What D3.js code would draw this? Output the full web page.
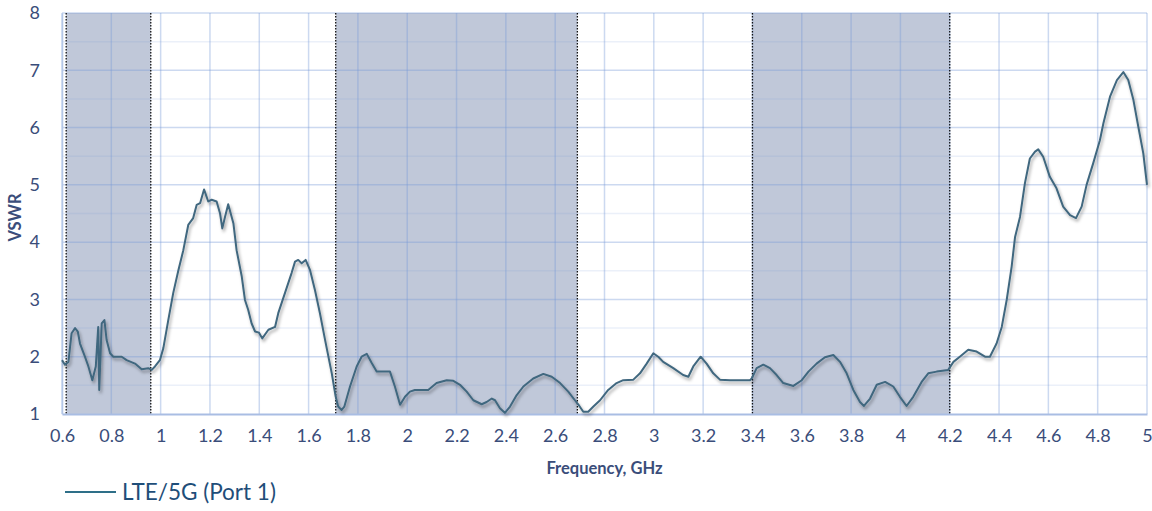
<!DOCTYPE html>
<meta charset="utf-8">
<style>
body { margin: 0; background: #fff; }
svg text { font-family: Lato, "Open Sans", sans-serif; fill: #3a4d7a; }
.tick text { font-size: 18px; }
.title { font-size: 16.5px; font-weight: bold; }
.legend text { font-size: 22.5px; fill: #1f4e79; }
</style>
<body>
<script src="https://cdnjs.cloudflare.com/ajax/libs/d3/7.8.5/d3.min.js"></script>
<script>

// frequency (GHz) and VSWR
var freq = [0.600,0.612,0.626,0.639,0.653,0.664,0.673,0.693,0.707,0.723,0.737,0.747,0.751,0.761,0.772,0.781,0.795,0.808,0.842,0.862,0.896,0.923,0.950,0.964,0.977,0.997,1.011,1.031,1.051,1.072,1.092,1.112,1.132,1.146,1.160,1.176,1.193,1.207,1.227,1.241,1.250,1.261,1.274,1.295,1.308,1.329,1.342,1.355,1.369,1.383,1.399,1.412,1.437,1.464,1.477,1.504,1.531,1.545,1.558,1.572,1.588,1.606,1.626,1.646,1.667,1.694,1.710,1.720,1.734,1.745,1.768,1.795,1.815,1.836,1.856,1.876,1.930,1.950,1.971,1.991,2.011,2.031,2.085,2.119,2.160,2.187,2.214,2.241,2.268,2.302,2.322,2.343,2.356,2.376,2.396,2.417,2.444,2.471,2.511,2.552,2.586,2.620,2.653,2.680,2.698,2.714,2.734,2.755,2.782,2.815,2.849,2.876,2.917,2.944,2.971,2.998,3.018,3.038,3.079,3.119,3.140,3.160,3.190,3.214,3.241,3.268,3.309,3.390,3.397,3.417,3.444,3.471,3.498,3.525,3.566,3.600,3.627,3.660,3.694,3.728,3.755,3.782,3.809,3.836,3.852,3.877,3.904,3.938,3.971,3.998,4.025,4.052,4.086,4.113,4.147,4.194,4.215,4.241,4.275,4.309,4.343,4.363,4.390,4.411,4.431,4.451,4.465,4.485,4.505,4.525,4.546,4.559,4.579,4.606,4.633,4.660,4.688,4.712,4.735,4.755,4.782,4.809,4.823,4.850,4.878,4.904,4.924,4.945,4.965,4.985,5.000];
var vswr = [1.94,1.86,1.91,2.41,2.50,2.44,2.23,2.00,1.83,1.59,1.83,2.52,1.42,2.58,2.64,2.29,2.06,2.00,2.00,1.94,1.88,1.78,1.80,1.77,1.83,1.94,2.15,2.64,3.11,3.51,3.86,4.30,4.42,4.65,4.68,4.92,4.71,4.74,4.71,4.50,4.24,4.44,4.66,4.33,3.86,3.40,2.99,2.82,2.58,2.44,2.42,2.32,2.47,2.52,2.76,3.11,3.46,3.66,3.69,3.63,3.69,3.51,3.16,2.76,2.29,1.71,1.30,1.13,1.07,1.13,1.48,1.83,2.00,2.05,1.89,1.74,1.74,1.48,1.16,1.30,1.39,1.42,1.42,1.54,1.59,1.58,1.51,1.39,1.24,1.17,1.21,1.27,1.24,1.10,1.02,1.13,1.33,1.48,1.62,1.70,1.65,1.54,1.39,1.24,1.14,1.04,1.04,1.13,1.24,1.42,1.54,1.59,1.60,1.71,1.88,2.06,2.00,1.91,1.80,1.68,1.65,1.83,2.00,1.88,1.71,1.60,1.59,1.59,1.62,1.80,1.86,1.80,1.68,1.54,1.49,1.59,1.74,1.88,1.99,2.03,1.91,1.71,1.42,1.21,1.14,1.27,1.51,1.56,1.48,1.30,1.14,1.30,1.56,1.71,1.74,1.77,1.91,2.00,2.12,2.09,2.00,2.00,2.23,2.52,2.99,3.57,4.09,4.44,5.03,5.46,5.58,5.62,5.49,5.14,4.94,4.62,4.47,4.42,4.62,5.00,5.38,5.78,6.07,6.54,6.83,6.97,6.83,6.48,6.01,5.55,5.00];

// shaded LTE/5G bands (GHz)
var bandStart = [0.617, 1.71, 3.4];
var bandEnd = [0.96, 2.69, 4.2];

var xTicks = [0.6,0.8,1,1.2,1.4,1.6,1.8,2,2.2,2.4,2.6,2.8,3,3.2,3.4,3.6,3.8,4,4.2,4.4,4.6,4.8,5];
var yTicks = [1,2,3,4,5,6,7,8];
var yMinor = [1.5,2.5,3.5,4.5,5.5,6.5,7.5];

var seriesName = "LTE/5G (Port 1)";

var width = 1152, height = 511;
var margin = {top: 13, right: 5, bottom: 97, left: 62};
var w = width - margin.left - margin.right,
    h = height - margin.top - margin.bottom;

var x = d3.scaleLinear().domain([0.6, 5]).range([0, w]);
var y = d3.scaleLinear().domain([1, 8]).range([h, 0]);

var svg = d3.select("body").append("svg")
    .attr("width", width)
    .attr("height", height);

var defs = svg.append("defs");
var shadow = defs.append("filter").attr("id", "shadow")
    .attr("x", "-5%").attr("y", "-5%").attr("width", "110%").attr("height", "115%");
shadow.append("feDropShadow")
    .attr("dx", 1.5).attr("dy", 2.5).attr("stdDeviation", 1.6)
    .attr("flood-color", "#000").attr("flood-opacity", 0.35);

var g = svg.append("g")
    .attr("transform", "translate(" + margin.left + "," + margin.top + ")");

// bands
var bands = bandStart.map(function(s, i) { return [s, bandEnd[i]]; });
g.selectAll("rect.band")
    .data(bands)
  .enter().append("rect")
    .attr("class", "band")
    .attr("x", function(d) { return x(d[0]); })
    .attr("width", function(d) { return x(d[1]) - x(d[0]); })
    .attr("y", 0)
    .attr("height", h)
    .style("fill", "#c0c8d9");

// grid
g.selectAll("line.minor")
    .data(yMinor)
  .enter().append("line")
    .attr("x1", 0).attr("x2", w)
    .attr("y1", function(d) { return y(d); })
    .attr("y2", function(d) { return y(d); })
    .style("stroke", "rgba(120,155,215,0.15)")
    .style("stroke-width", 1.5);

g.selectAll("line.hgrid")
    .data(yTicks.slice(1))
  .enter().append("line")
    .attr("x1", 0).attr("x2", w)
    .attr("y1", function(d) { return y(d); })
    .attr("y2", function(d) { return y(d); })
    .style("stroke", "rgba(120,155,215,0.38)")
    .style("stroke-width", 1.5);

g.selectAll("line.vgrid")
    .data(xTicks)
  .enter().append("line")
    .attr("x1", function(d) { return x(d); })
    .attr("x2", function(d) { return x(d); })
    .attr("y1", 0).attr("y2", h)
    .style("stroke", "rgba(120,155,215,0.38)")
    .style("stroke-width", 1.5);

// band edges
var edges = bandStart.concat(bandEnd);
g.selectAll("line.edge")
    .data(edges)
  .enter().append("line")
    .attr("x1", function(d) { return x(d); })
    .attr("x2", function(d) { return x(d); })
    .attr("y1", 0).attr("y2", h)
    .style("stroke", "#111")
    .style("stroke-width", 1.3)
    .style("stroke-dasharray", "1.5,1.5");

// axes
var xAxis = g.append("g")
    .attr("transform", "translate(0," + h + ")")
    .call(d3.axisBottom(x).tickValues(xTicks).tickSize(0).tickPadding(15).tickFormat(d3.format("")));
xAxis.select(".domain").style("stroke", "#a9bde3").style("stroke-width", 2);

var yAxis = g.append("g")
    .call(d3.axisLeft(y).tickValues(yTicks).tickSize(0).tickPadding(22).tickFormat(d3.format("d")));
yAxis.select(".domain").style("stroke", "#b4c7e7").style("stroke-width", 1.5);

svg.selectAll(".tick text").style("fill", "#3a4d7a");

// series
var line = d3.line()
    .x(function(d) { return x(d[0]); })
    .y(function(d) { return y(d[1]); });

var pts = freq.map(function(f, i) { return [f, vswr[i]]; });
g.append("path")
    .datum(pts)
    .attr("d", line)
    .attr("filter", "url(#shadow)")
    .style("fill", "none")
    .style("stroke", "#41677f")
    .style("stroke-width", 2)
    .style("stroke-linejoin", "round");

// titles
svg.append("text")
    .attr("class", "title")
    .attr("transform", "translate(21," + (margin.top + h / 2 + 4) + ") rotate(-90)")
    .attr("text-anchor", "middle")
    .text("VSWR");

svg.append("text")
    .attr("class", "title")
    .attr("x", margin.left + w / 2)
    .attr("y", 474)
    .attr("text-anchor", "middle")
    .text("Frequency, GHz");

// legend
var legend = svg.append("g").attr("class", "legend");
legend.append("line")
    .attr("x1", 65).attr("x2", 116)
    .attr("y1", 492).attr("y2", 492)
    .style("stroke", "#2e6f88")
    .style("stroke-width", 2);
legend.append("text")
    .attr("x", 122)
    .attr("y", 500)
    .text(seriesName);

</script>
</body>
